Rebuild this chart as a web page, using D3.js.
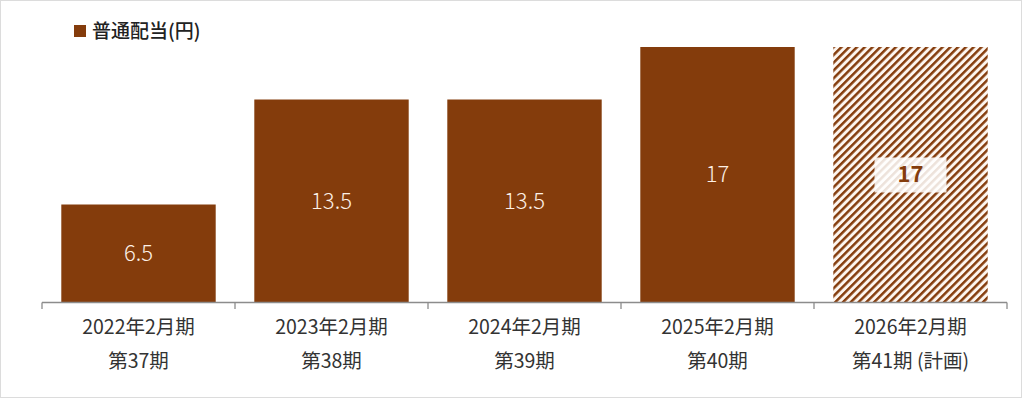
<!DOCTYPE html>
<html>
<head>
<meta charset="utf-8">
<script src="https://cdn.jsdelivr.net/npm/d3@7"></script>
<style>
  body { margin: 0; background: #fff; }
  svg { display: block; font-family: "Noto Sans CJK JP", "Noto Sans", sans-serif; }
</style>
</head>
<body>
<svg id="chart" width="1024" height="399"></svg>
<script>
// data
var periods = ["2022年2月期", "2023年2月期", "2024年2月期", "2025年2月期", "2026年2月期"];
var terms = ["第37期", "第38期", "第39期", "第40期", "第41期 (計画)"];
var dividends = [6.5, 13.5, 13.5, 17, 17];
var planned = [false, false, false, false, true];
var seriesName = "普通配当(円)";

var brown = "#843C0C";

var svg = d3.select("#chart");

// outer frame
svg.append("rect")
    .attr("x", 0.5).attr("y", 0.5)
    .attr("width", 1021).attr("height", 397)
    .attr("fill", "#fff")
    .attr("stroke", "#dcdcdc");

// hatch pattern for the planned bar
var pat = svg.append("defs").append("pattern")
    .attr("id", "hatch")
    .attr("patternUnits", "userSpaceOnUse")
    .attr("width", 5.5).attr("height", 5.5)
    .attr("patternTransform", "rotate(45)");
pat.append("rect").attr("width", 5.5).attr("height", 5.5).attr("fill", "#fdf6f0");
pat.append("rect").attr("width", 2.5).attr("height", 5.5).attr("fill", brown);

var x = d3.scaleBand()
    .domain(d3.range(periods.length))
    .range([42, 1007])
    .paddingInner(0.2)
    .paddingOuter(0.1);

var y = d3.scaleLinear()
    .domain([0, 20])
    .range([302, 2]);

// bars
svg.append("g").selectAll("rect")
    .data(dividends)
    .enter().append("rect")
      .attr("x", function(d, i) { return x(i); })
      .attr("y", function(d) { return y(d); })
      .attr("width", x.bandwidth())
      .attr("height", function(d) { return y(0) - y(d); })
      .attr("fill", function(d, i) { return planned[i] ? "url(#hatch)" : brown; });

// value labels
var labels = svg.append("g").selectAll("g")
    .data(dividends)
    .enter().append("g")
      .attr("transform", function(d, i) {
        return "translate(" + (x(i) + x.bandwidth() / 2) + "," + ((y(d) + y(0)) / 2) + ")";
      });

labels.filter(function(d, i) { return planned[i]; })
  .append("rect")
    .attr("x", -36).attr("y", -17)
    .attr("width", 72).attr("height", 35)
    .attr("fill", "#fff")
    .attr("fill-opacity", 0.85);

labels.append("text")
    .attr("text-anchor", "middle")
    .attr("dy", "0.36em")
    .attr("font-size", 22)
    .attr("font-weight", function(d, i) { return planned[i] ? 700 : 300; })
    .attr("fill", function(d, i) { return planned[i] ? brown : "#fdf0e6"; })
    .text(function(d) { return d; });

// x axis: boundary ticks between categories
var step = x.step();
var bounds = d3.range(periods.length + 1).map(function(i) { return 42 + i * step; });
var axis = svg.append("g").attr("stroke", "#8c8c8c").attr("stroke-width", 1.3);
axis.append("line")
    .attr("x1", 42).attr("x2", 1007)
    .attr("y1", y(0) + 0.5).attr("y2", y(0) + 0.5);
axis.selectAll("line.tick")
    .data(bounds)
    .enter().append("line")
      .attr("class", "tick")
      .attr("x1", function(d) { return d; }).attr("x2", function(d) { return d; })
      .attr("y1", y(0) + 0.5).attr("y2", y(0) + 7);

var cat = svg.append("g").selectAll("g")
    .data(periods)
    .enter().append("g")
      .attr("transform", function(d, i) { return "translate(" + (x(i) + x.bandwidth() / 2) + ",0)"; });
cat.append("text")
    .attr("y", 327).attr("dy", "0.36em")
    .attr("text-anchor", "middle")
    .attr("font-size", 19.5)
    .attr("fill", "#333")
    .text(function(d) { return d; });
cat.append("text")
    .attr("y", 361).attr("dy", "0.36em")
    .attr("text-anchor", "middle")
    .attr("font-size", 19.5)
    .attr("fill", "#333")
    .text(function(d, i) { return terms[i]; });

// legend
var legend = svg.append("g").attr("transform", "translate(74,31)");
legend.append("rect")
    .attr("x", 0).attr("y", -6)
    .attr("width", 12).attr("height", 12)
    .attr("fill", brown);
legend.append("text")
    .attr("x", 18).attr("dy", "0.36em")
    .attr("font-size", 19)
    .attr("font-weight", 500)
    .attr("fill", "#222")
    .text(seriesName);
</script>
</body>
</html>
